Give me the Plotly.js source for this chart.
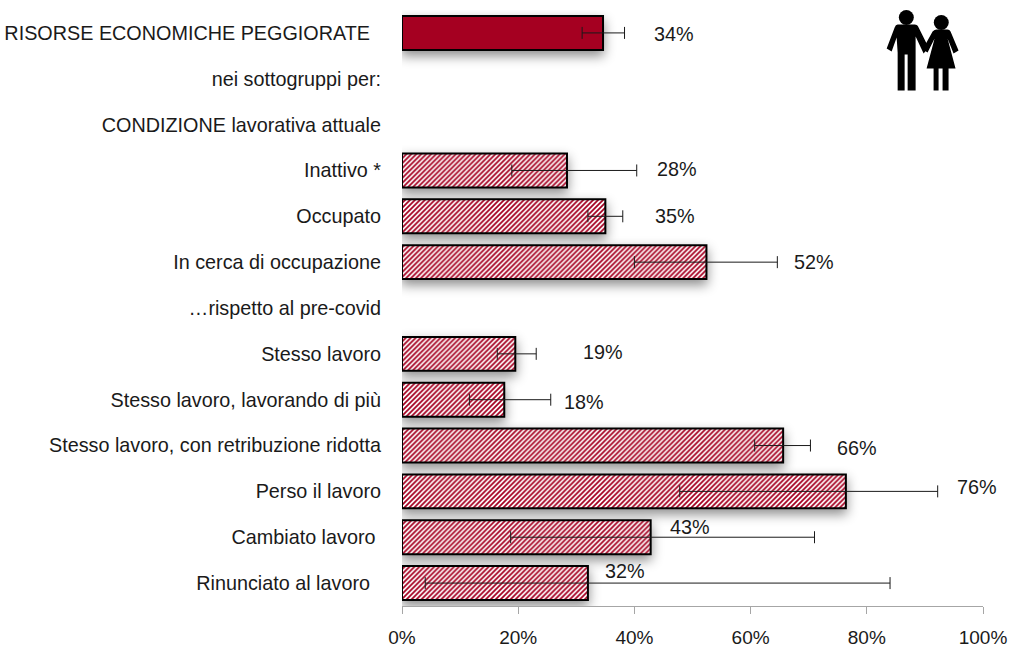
<!DOCTYPE html>
<html><head><meta charset="utf-8">
<script src="https://cdn.plot.ly/plotly-3.0.1.min.js"></script>
<style>html,body{margin:0;padding:0;background:#fff}#chart{width:1009px;height:646px}</style>
</head><body><div id="chart"></div>
<script>
const NB = '\u00a0';
const categories = ['RISORSE ECONOMICHE PEGGIORATE'+NB+NB,'nei sottogruppi per:','CONDIZIONE lavorativa attuale','Inattivo *','Occupato','In cerca di occupazione','…rispetto al pre-covid','Stesso lavoro','Stesso lavoro, lavorando di più','Stesso lavoro, con retribuzione ridotta','Perso il lavoro','Cambiato lavoro'+NB,'Rinunciato al lavoro'+NB+NB];
const overallValue = [34.6];
const overallLow = [31.0];
const overallHigh = [38.3];
const subValues = [null,null,null,28.4,35.0,52.4,null,19.5,17.6,65.6,76.4,42.8,32.0];
const subLow    = [null,null,null,18.9,32.0,40.0,null,16.4,11.6,60.7,47.8,18.7,4.0];
const subHigh   = [null,null,null,40.4,38.0,64.6,null,23.1,25.6,70.3,92.2,71.0,84.0];
const labels    = ['34%',null,null,'28%','35%','52%',null,'19%','18%','66%','76%','43%','32%'];
const labelX    = [46.8,null,null,47.3,47.0,70.9,null,34.6,31.3,78.3,99.0,49.6,38.4];
const labelShift= [-1,null,null,1.5,0,0,null,2,-2,-2,4,10,12];

const diff=(a,b)=>a.map((v,i)=>v==null?null:+(v-b[i]).toFixed(2));
const font={family:'"Liberation Sans",Arial,sans-serif',size:19.8,color:'#1a1a1a'};
const tickFont={family:font.family,size:19,color:'#1a1a1a'};
const red='#A50021';
const errStyle={type:'data',symmetric:false,color:'#1a1a1a',thickness:1,width:6};

const traces=[
 {type:'bar',orientation:'h',y:[categories[0]],x:overallValue,width:0.74,
  marker:{color:red,line:{color:'#000',width:2}},
  error_x:Object.assign({array:diff(overallHigh,overallValue),arrayminus:diff(overallValue,overallLow)},errStyle),hoverinfo:'none'},
 {type:'bar',orientation:'h',y:categories,x:subValues,width:0.74,
  marker:{color:'#fff',line:{color:'#000',width:2},pattern:{shape:'/',fgcolor:red,bgcolor:'#fff',size:3.5,solidity:0.5,fgopacity:1}},
  error_x:Object.assign({array:diff(subHigh,subValues),arrayminus:diff(subValues,subLow)},errStyle),hoverinfo:'none'}
];
const annotations=labels.map((t,i)=>t==null?null:{xref:'x',yref:'y',x:labelX[i],y:categories[i],text:t,showarrow:false,yshift:labelShift[i],font:font,xanchor:'center',yanchor:'middle'}).filter(Boolean);
const iconSvg=`<svg xmlns="http://www.w3.org/2000/svg" width="120" height="100" viewBox="0 0 120 100"><g fill="#000"><circle cx="46.700" cy="17" r="7.500"/><path d="M38 24 L55 24 Q58 24 59 27 L69 47 L64 53 L56 36 L56 90 L48 90 L48 54 L45 54 L45 90 L38 90 L38 52 L37 37 L32 51 L27 48 L35 27 Q36 24 38 24Z"/><circle cx="81.700" cy="22" r="7.500"/><path d="M77 29 L88 29 Q90 29 91 31 L99 50 L94 53 L88 38 L96 68 L89 68 L89 90 L83 90 L83 68 L79 68 L79 90 L74 90 L74 68 L67 68 L75 38 L68 52 L63 49 L73 31 Q75 29 77 29Z"/></g></svg>`;
const layout={
 width:1009,height:646,margin:{l:401.5,r:25.5,t:9.5,b:40},paper_bgcolor:'#fff',plot_bgcolor:'#fff',font:font,showlegend:false,barmode:'overlay',
 xaxis:{range:[0,100],tickvals:[0,20,40,60,80,100],ticktext:['0%','20%','40%','60%','80%','100%'],showgrid:false,zeroline:false,showline:true,linecolor:'#a6a6a6',linewidth:1,ticks:'outside',ticklen:7,tickcolor:'#a6a6a6',tickwidth:1,tickfont:tickFont,ticklabelstandoff:7},
 yaxis:{type:'category',categoryorder:'array',categoryarray:categories,range:[12.5,-0.5],showgrid:false,zeroline:false,showline:false,ticks:'',ticklabelstandoff:20,tickfont:font,automargin:false},
 annotations:annotations,
 images:[{source:'data:image/svg+xml;base64,'+btoa(iconSvg),xref:'paper',yref:'paper',x:(860-401.5)/582,y:1+9.5/596.5,sizex:120/582,sizey:100/596.5,sizing:'stretch',xanchor:'left',yanchor:'top',layer:'above'}]
};
Plotly.newPlot('chart',traces,layout,{staticPlot:true,displayModeBar:false}).then(()=>{
 document.querySelectorAll('.barlayer .point path').forEach(p=>{p.style.filter='drop-shadow(0 5px 6px rgba(0,0,0,0.45))';});
});
</script></body></html>
